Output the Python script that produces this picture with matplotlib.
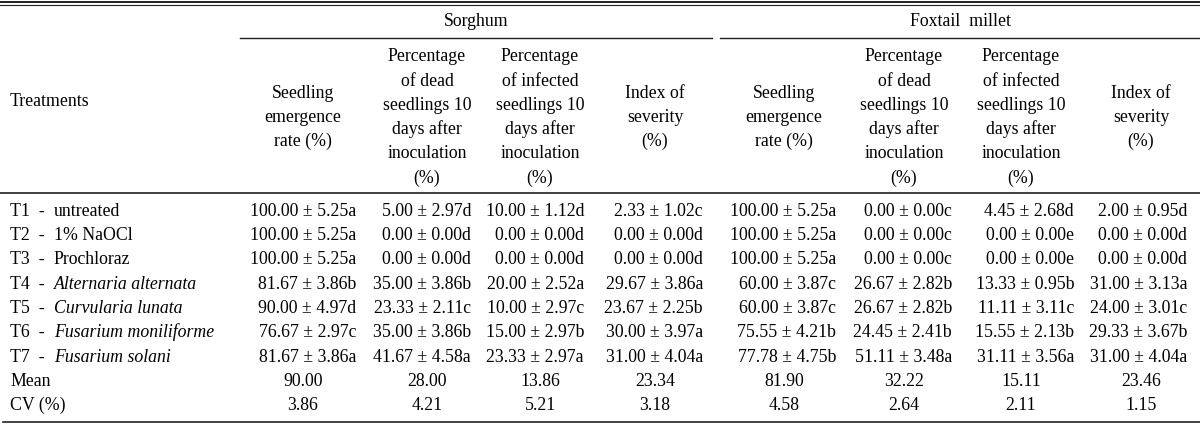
import matplotlib
matplotlib.use("Agg")
import matplotlib.pyplot as plt

# treatments
treat_ids = ["T1", "T2", "T3", "T4", "T5", "T6", "T7"]
treat_names = ["untreated", "1% NaOCl", "Prochloraz", "Alternaria alternata",
               "Curvularia lunata", "Fusarium moniliforme", "Fusarium solani"]
treat_italic = [False, False, False, True, True, True, True]

col_headers = [
    ["Seedling", "emergence", "rate (%)"],
    ["Percentage", "of dead", "seedlings 10", "days after", "inoculation", "(%)"],
    ["Percentage", "of infected", "seedlings 10", "days after", "inoculation", "(%)"],
    ["Index of", "severity", "(%)"],
]
crops = ["Sorghum", "Foxtail  millet"]

# sorghum: emergence, dead, infected, severity
sorghum_mean = [
    [100.00, 100.00, 100.00, 81.67, 90.00, 76.67, 81.67],
    [5.00, 0.00, 0.00, 35.00, 23.33, 35.00, 41.67],
    [10.00, 0.00, 0.00, 20.00, 10.00, 15.00, 23.33],
    [2.33, 0.00, 0.00, 29.67, 23.67, 30.00, 31.00],
]
sorghum_se = [
    [5.25, 5.25, 5.25, 3.86, 4.97, 2.97, 3.86],
    [2.97, 0.00, 0.00, 3.86, 2.11, 3.86, 4.58],
    [1.12, 0.00, 0.00, 2.52, 2.97, 2.97, 2.97],
    [1.02, 0.00, 0.00, 3.86, 2.25, 3.97, 4.04],
]
sorghum_letters = ["aaabdca", "dddbcba", "dddacba", "cddabaa"]
sorghum_avg = [90.00, 28.00, 13.86, 23.34]
sorghum_cv = [3.86, 4.21, 5.21, 3.18]

# foxtail millet
foxtail_mean = [
    [100.00, 100.00, 100.00, 60.00, 60.00, 75.55, 77.78],
    [0.00, 0.00, 0.00, 26.67, 26.67, 24.45, 51.11],
    [4.45, 0.00, 0.00, 13.33, 11.11, 15.55, 31.11],
    [2.00, 0.00, 0.00, 31.00, 24.00, 29.33, 31.00],
]
foxtail_se = [
    [5.25, 5.25, 5.25, 3.87, 3.87, 4.21, 4.75],
    [0.00, 0.00, 0.00, 2.82, 2.82, 2.41, 3.48],
    [2.68, 0.00, 0.00, 0.95, 3.11, 2.13, 3.56],
    [0.95, 0.00, 0.00, 3.13, 3.01, 3.67, 4.04],
]
foxtail_letters = ["aaaccbb", "cccbbba", "deebcba", "dddacba"]
foxtail_avg = [81.90, 32.22, 15.11, 23.46]
foxtail_cv = [4.58, 2.64, 2.11, 1.15]

plt.rcParams["font.family"] = ["Liberation Serif", "DejaVu Serif"]
FS = 12.8
LINE = "#222222"

fig = plt.figure(figsize=(12, 4.25), dpi=100)
ax = fig.add_axes([0, 0, 1, 1])
ax.set_xlim(0, 1200)
ax.set_ylim(425, 0)
ax.axis("off")

# layout (pixel units)
centers = [303, 427, 540, 655, 784, 904, 1021, 1141]
rights = [356, 471, 584, 703, 836, 952, 1074, 1187]
row0, dy = 215.5, 24.35
head_mid, head_dy = 122, 24.3

# rules
ax.plot([0, 1200], [1.5, 1.5], color=LINE, lw=1.4)
ax.plot([0, 1200], [5, 5], color=LINE, lw=0.8)
ax.plot([240, 712], [38, 38], color=LINE, lw=1.0)
ax.plot([720, 1200], [38, 38], color=LINE, lw=1.0)
ax.plot([0, 1200], [193, 193], color=LINE, lw=1.2)
ax.plot([3, 1200], [422, 422], color=LINE, lw=1.2)

# header
ax.text(10, 106, "Treatments", fontsize=FS, ha="left", va="baseline")
ax.text(476, 26, crops[0], fontsize=FS, ha="center", va="baseline")
ax.text(960, 26, crops[1], fontsize=FS, ha="center", va="baseline")
for c in range(8):
    lines = col_headers[c % 4]
    n = len(lines)
    for k, s in enumerate(lines):
        y = head_mid + (k - (n - 1) / 2) * head_dy
        ax.text(centers[c], y, s, fontsize=FS, ha="center", va="baseline")

# treatment rows
for i in range(len(treat_ids)):
    y = row0 + i * dy
    lab = ax.text(10, y, treat_ids[i] + "  -  ", fontsize=FS, ha="left", va="baseline")
    ax.annotate(treat_names[i], xy=(1, 0), xycoords=lab, fontsize=FS,
                ha="left", va="bottom",
                style="italic" if treat_italic[i] else "normal")
    for c in range(4):
        for off, means, ses, lets in [(0, sorghum_mean, sorghum_se, sorghum_letters),
                                      (4, foxtail_mean, foxtail_se, foxtail_letters)]:
            s = "%.2f \u00b1 %.2f%s" % (means[c][i], ses[c][i], lets[c][i])
            ax.text(rights[off + c], y, s, fontsize=FS, ha="right", va="baseline")

# mean and CV
y_mean = row0 + len(treat_ids) * dy
y_cv = y_mean + dy
ax.text(10, y_mean, "Mean", fontsize=FS, ha="left", va="baseline")
ax.text(10, y_cv, "CV (%)", fontsize=FS, ha="left", va="baseline")
for c, (m, cv) in enumerate(zip(sorghum_avg + foxtail_avg, sorghum_cv + foxtail_cv)):
    ax.text(centers[c], y_mean, "%.2f" % m, fontsize=FS, ha="center", va="baseline")
    ax.text(centers[c], y_cv, "%.2f" % cv, fontsize=FS, ha="center", va="baseline")

fig.savefig("out.png", dpi=100)
